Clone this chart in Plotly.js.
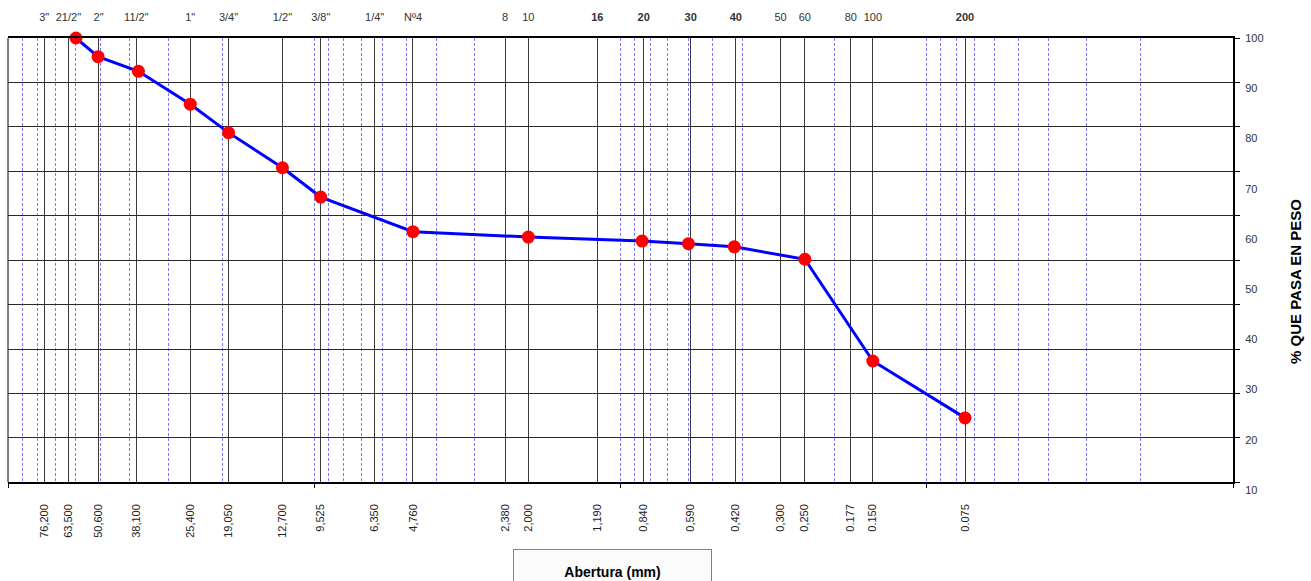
<!DOCTYPE html>
<html>
<head>
<meta charset="utf-8">
<script src="https://cdn.plot.ly/plotly-3.0.1.min.js"></script>
<style>html,body{margin:0;padding:0;background:#fff;}#chart{width:1311px;height:581px;}</style>
</head>
<body>
<div id="chart"></div>
<script>
// Sieve openings (mm) and their names
const sieveOpenings = [76.2, 63.5, 50.6, 38.1, 25.4, 19.05, 12.7, 9.525, 6.35, 4.76, 2.38, 2.0, 1.19, 0.84, 0.59, 0.42, 0.30, 0.25, 0.177, 0.150, 0.075];
const sieveNames = ['3"', '21/2"', '2"', '11/2"', '1"', '3/4"', '1/2"', '3/8"', '1/4"', 'Nº4', '8', '10', '<b>16</b>', '<b>20</b>', '<b>30</b>', '<b>40</b>', '50', '60', '80', '100', '<b>200</b>'];
const openingLabels = ['76,200', '63,500', '50,600', '38,100', '25,400', '19,050', '12,700', '9,525', '6,350', '4,760', '2,380', '2,000', '1,190', '0,840', '0,590', '0,420', '0,300', '0,250', '0.177', '0.150', '0.075'];

// Grading curve (opening in mm, % passing)
const sampleOpenings = [60.0, 50.8, 37.5, 25.4, 19.05, 12.7, 9.525, 4.76, 2.0, 0.85, 0.60, 0.425, 0.25, 0.15, 0.075];
const percentPassing = [100, 95.8, 92.5, 85.1, 78.7, 70.8, 64.2, 56.4, 55.2, 54.3, 53.7, 53.0, 50.2, 27.3, 14.5];

// Log grid (minor lines) and decade ticks
const minorGridValues = [90, 80, 70, 60, 50, 40, 30, 20, 10, 9, 8, 7, 6, 5, 4, 3, 2, 1, 0.9, 0.8, 0.7, 0.6, 0.5, 0.4, 0.3, 0.2, 0.1, 0.09, 0.08, 0.07, 0.06, 0.05, 0.04, 0.03, 0.02];
const decadeTicks = [100, 10, 1, 0.1, 0.01];

// Percent axis labels
const percentLabels = [10, 20, 30, 40, 50, 60, 70, 80, 90, 100];

const FONT = 'Liberation Sans, Arial, sans-serif';
const logRange = [2, -2];

const traces = [
  {
    x: sampleOpenings, y: percentPassing, type: 'scatter', mode: 'lines+markers',
    line: {color: '#0000ff', width: 3},
    marker: {color: '#ff0000', size: 13},
    xaxis: 'x', yaxis: 'y', hoverinfo: 'x+y', showlegend: false, cliponaxis: false
  },
  {x: [sieveOpenings[0]], y: [50], xaxis: 'x2', yaxis: 'y', mode: 'markers', marker: {opacity: 0}, showlegend: false, hoverinfo: 'skip'},
  {x: [decadeTicks[1]], y: [50], xaxis: 'x3', yaxis: 'y', mode: 'markers', marker: {opacity: 0}, showlegend: false, hoverinfo: 'skip'},
  {x: [decadeTicks[1]], y: [percentLabels[4]], xaxis: 'x4', yaxis: 'y2', mode: 'markers', marker: {opacity: 0}, showlegend: false, hoverinfo: 'skip'}
];

const layout = {
  width: 1311, height: 581,
  margin: {l: 8, r: 78, t: 38, b: 85},
  paper_bgcolor: '#ffffff', plot_bgcolor: 'rgba(0,0,0,0)',
  showlegend: false,
  font: {family: FONT, size: 11, color: '#222'},
  xaxis: {
    type: 'log', range: logRange, domain: [0, 1], anchor: 'y',
    tickmode: 'array', tickvals: sieveOpenings, ticktext: openingLabels,
    tickangle: -90, ticks: 'outside', ticklen: 16, tickcolor: 'rgba(0,0,0,0)',
    tickfont: {family: FONT, size: 11, color: '#222'},
    showgrid: true, gridcolor: '#3a3a3a', gridwidth: 1,
    minor: {tickmode: 'array', tickvals: minorGridValues, showgrid: true, gridcolor: '#7a7aff', griddash: '3px,2px', gridwidth: 1, ticks: ''},
    showline: true, linecolor: '#000', linewidth: 1.5,
    zeroline: false, fixedrange: true
  },
  xaxis2: {
    type: 'log', range: logRange, overlaying: 'x', side: 'top', anchor: 'y',
    tickmode: 'array', tickvals: sieveOpenings, ticktext: sieveNames,
    ticks: 'outside', ticklen: 11, tickcolor: 'rgba(0,0,0,0)',
    tickfont: {family: FONT, size: 11, color: '#333'},
    showgrid: false, showline: true, linecolor: '#000', linewidth: 2,
    zeroline: false, fixedrange: true
  },
  xaxis3: {
    type: 'log', range: logRange, overlaying: 'x', side: 'bottom', anchor: 'y',
    tickmode: 'array', tickvals: decadeTicks,
    ticks: 'outside', ticklen: 5, tickcolor: '#000', tickwidth: 1,
    showticklabels: false, showgrid: false, showline: false, zeroline: false, fixedrange: true
  },
  xaxis4: {
    type: 'log', range: logRange, domain: [0, 1], anchor: 'y2', visible: false, fixedrange: true
  },
  yaxis: {
    range: [0, 100], domain: [0.0299, 1], anchor: 'x', side: 'right',
    dtick: 10, tick0: 0, showticklabels: false,
    ticks: 'outside', ticklen: 5, tickcolor: '#000',
    showgrid: true, gridcolor: '#2a2a2a', gridwidth: 1,
    showline: true, linecolor: '#000', linewidth: 2,
    zeroline: false, fixedrange: true
  },
  yaxis2: {
    range: [8.8, 100], domain: [0, 1], anchor: 'free', position: 1, side: 'right',
    tickmode: 'array', tickvals: percentLabels,
    ticks: 'outside', ticklen: 9, tickcolor: 'rgba(0,0,0,0)',
    tickfont: {family: FONT, size: 11, color: '#333'},
    showgrid: false, showline: false, zeroline: false, fixedrange: true
  },
  shapes: [
    {type: 'line', xref: 'paper', yref: 'paper', x0: 0, x1: 0, y0: 0.0299, y1: 1, line: {color: '#000', width: 1}}
  ],
  annotations: [
    {
      text: '<b>% QUE PASA EN PESO</b>', xref: 'paper', yref: 'paper',
      x: 1.0506, y: 0.4694, xanchor: 'center', yanchor: 'middle', textangle: -90,
      showarrow: false, font: {family: FONT, size: 15, color: '#000'}
    },
    {
      text: '<b>Abertura (mm)</b>', xref: 'paper', yref: 'paper',
      x: 0.4935, y: -0.166, xanchor: 'center', yanchor: 'middle',
      width: 197, height: 44, borderpad: 0, borderwidth: 1, bordercolor: '#808080', bgcolor: '#fbfbfb',
      showarrow: false, font: {family: FONT, size: 14, color: '#000'}
    }
  ]
};

Plotly.newPlot('chart', traces, layout, {displayModeBar: false, staticPlot: true});
</script>
</body>
</html>
